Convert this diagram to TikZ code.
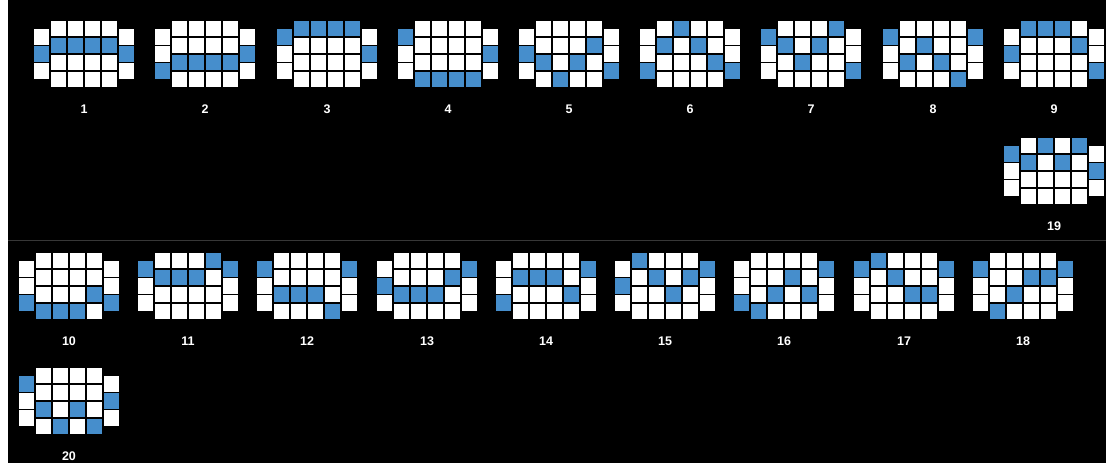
\documentclass[tikz,border=0pt]{standalone}
\usepackage{fontspec}
\setmainfont{Liberation Sans}
\definecolor{lineblue}{RGB}{70,142,204}
\definecolor{sepgray}{RGB}{55,55,55}
\tikzset{
  cellst/.style={draw=black, line width=1.5pt},
  numlabel/.style={text=white, font=\fontsize{12.5}{14}\selectfont\bfseries, inner sep=0pt},
}
\newcommand\payline[9]{%
  \foreach \r in {0,1,2}{%
    \ifnum\r=#3\relax\def\cc{lineblue}\else\def\cc{white}\fi
    \path[cellst, fill=\cc] (#1,#2+8.5+\r*17) rectangle ++(17,17);
  }
  \foreach \k/\h in {1/#4,2/#5,3/#6,4/#7}{%
    \foreach \r in {0,1,2,3}{%
      \ifnum\r=\h\relax\def\cc{lineblue}\else\def\cc{white}\fi
      \path[cellst, fill=\cc] (#1+17*\k,#2+\r*17) rectangle ++(17,17);
    }
  }
  \foreach \r in {0,1,2}{%
    \ifnum\r=#8\relax\def\cc{lineblue}\else\def\cc{white}\fi
    \path[cellst, fill=\cc] (#1+85,#2+8.5+\r*17) rectangle ++(17,17);
  }
  \node[numlabel] (lab#9) at (#1+51,#2+89) {#9};
}
\begin{document}
\begin{tikzpicture}[x=1pt,y=-1pt]
  \useasboundingbox (0,0) rectangle (1106,463);
  \fill[black] (0,0) rectangle (1106,463);
  \fill[white] (0,0) rectangle (8,463);
  \draw[sepgray, line width=0.8pt] (8,240) -- (1106,240);
  % top row
  \payline{33}{20}{1}{1}{1}{1}{1}{1}{1}
  \payline{154}{20}{2}{2}{2}{2}{2}{1}{2}
  \payline{276}{20}{0}{0}{0}{0}{0}{1}{3}
  \payline{397}{20}{0}{3}{3}{3}{3}{1}{4}
  \payline{518}{20}{1}{2}{3}{2}{1}{2}{5}
  \payline{639}{20}{2}{1}{0}{1}{2}{2}{6}
  \payline{760}{20}{0}{1}{2}{1}{0}{2}{7}
  \payline{882}{20}{0}{2}{1}{2}{3}{0}{8}
  \payline{1003}{20}{1}{0}{0}{0}{1}{2}{9}
  \payline{1003}{137}{0}{1}{0}{1}{0}{1}{19}
  % bottom row
  \payline{18}{252}{2}{3}{3}{3}{2}{2}{10}
  \payline{137}{252}{0}{1}{1}{1}{0}{0}{11}
  \payline{256}{252}{0}{2}{2}{2}{3}{0}{12}
  \payline{376}{252}{1}{2}{2}{2}{1}{0}{13}
  \payline{495}{252}{2}{1}{1}{1}{2}{0}{14}
  \payline{614}{252}{1}{0}{1}{2}{1}{0}{15}
  \payline{733}{252}{2}{3}{2}{1}{2}{0}{16}
  \payline{853}{252}{0}{0}{1}{2}{2}{0}{17}
  \payline{972}{252}{0}{3}{2}{1}{1}{0}{18}
  \payline{18}{367}{0}{2}{3}{2}{3}{1}{20}
\end{tikzpicture}
\end{document}
